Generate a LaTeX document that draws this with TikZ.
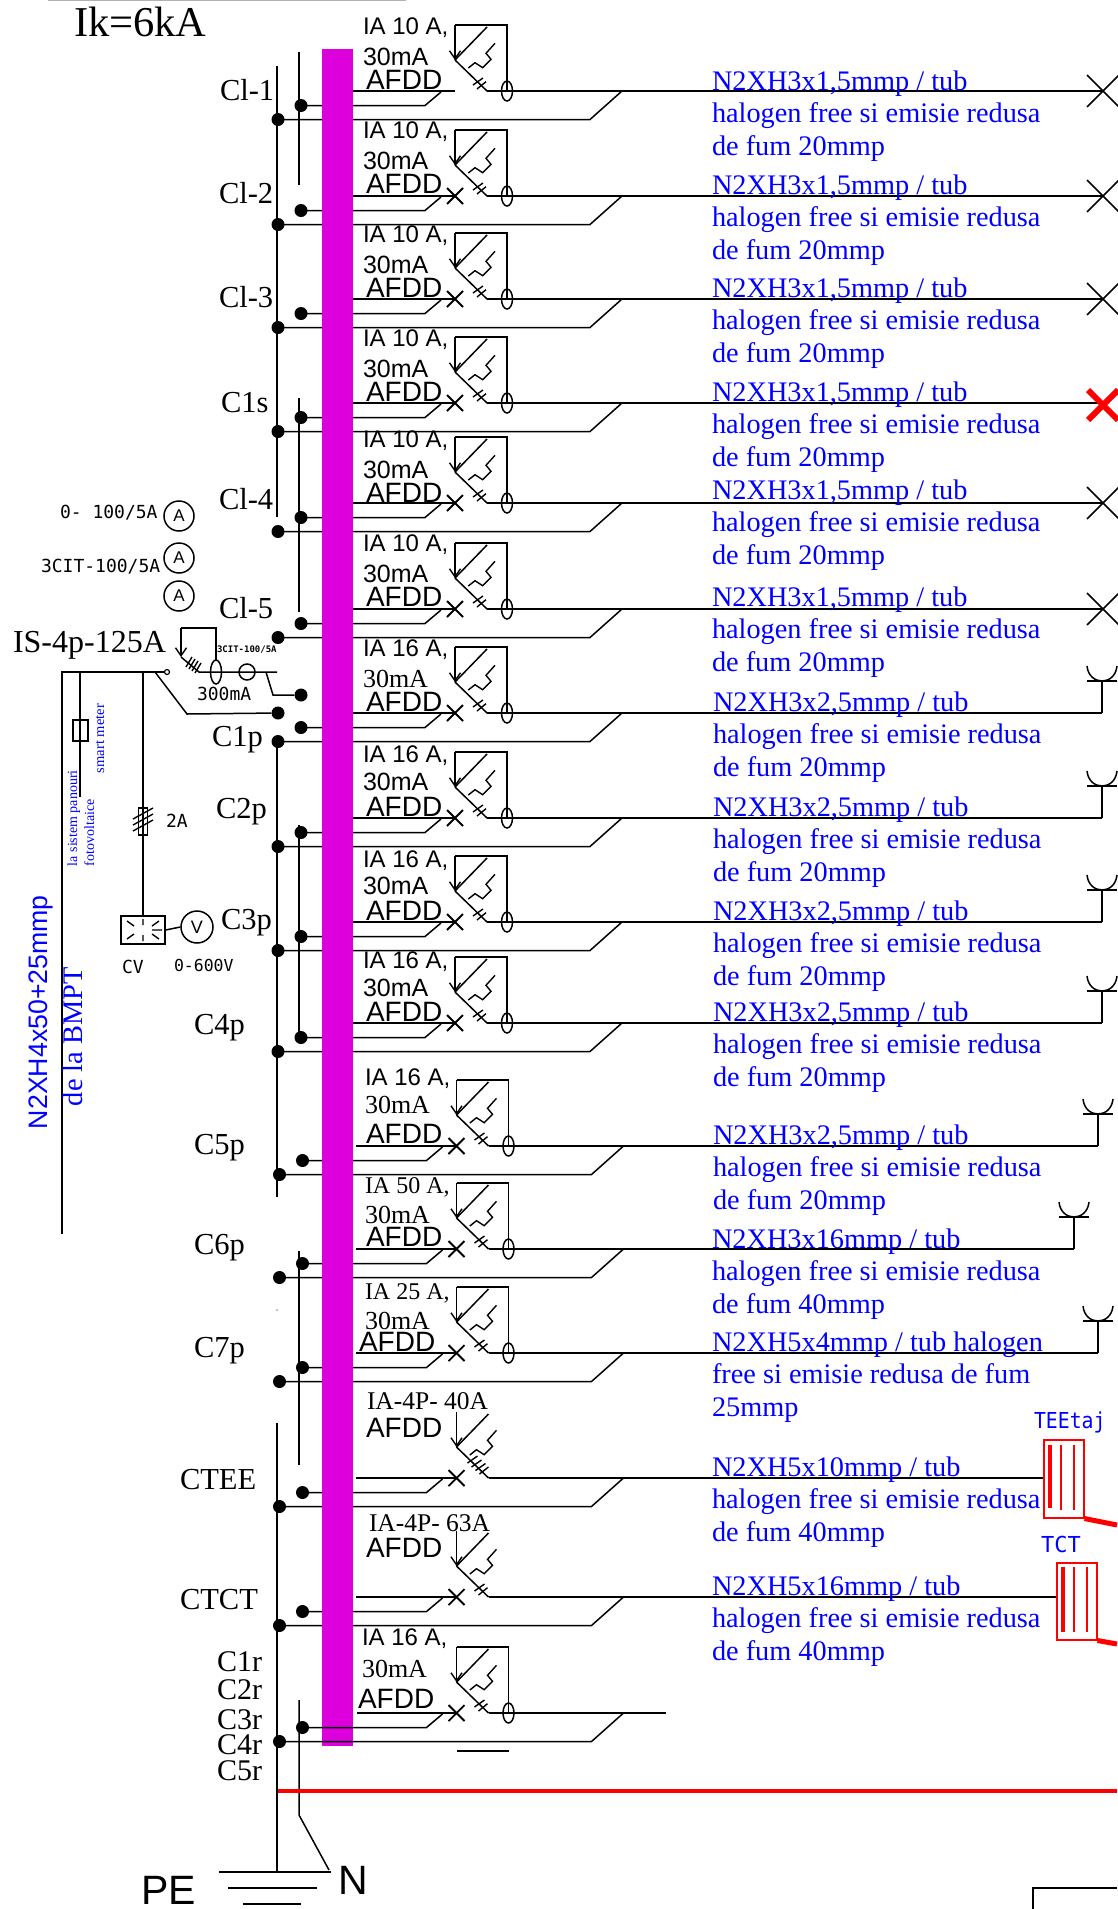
\documentclass[tikz,border=0pt]{standalone}
\usepackage{fontspec}
\setmainfont{Liberation Serif}
\setsansfont{Liberation Sans}
\newfontfamily\cad{DejaVu Sans Mono}
\usetikzlibrary{arrows.meta,shapes.geometric}
\definecolor{barpink}{HTML}{DD00DD}
\definecolor{cblue}{HTML}{0000FF}
\newcommand{\fs}[1]{\fontsize{#1}{#1}\selectfont}
\tikzset{
  ln/.style={draw=black,line width=1.5pt},
  thin ln/.style={draw=black,line width=1.4pt},
  rd/.style={draw=red,line width=1.5pt},
  bul/.style={circle,fill=black,draw=none,minimum size=13pt,inner sep=0pt},
  txt/.style={anchor=base west,inner sep=0pt,outer sep=0pt,text=black},
  cbl/.style={txt,text=cblue,font=\fs{28.3}},
  ser/.style={txt,font=\fs{30.5}},
  san/.style={txt,font=\sffamily\fs{24}},
  ma/.style={txt,font=\sffamily\fs{25}},
  mas/.style={txt,font=\fs{26}},
  afdd/.style={txt,font=\sffamily\fs{28}},
  cadt/.style={txt,font=\cad\fs{18}},
  ring/.style={circle,draw=black,line width=1.5pt,minimum size=30pt,inner sep=0pt,font=\sffamily\fs{17}},
  rlabel/.style={txt,font=\fs{30}},
  barb/.style={-{Straight Barb[length=8pt,width=11pt]}},
}
% feeder lines: id, main y, dx, right end x, main start x
\newcommand{\Lines}[5]{%
  \begin{scope}[shift={(0,#2)}]
    \coordinate (p#1) at (#5,0);
    \coordinate (e#1) at (#4,0);
    \begin{scope}[shift={(#3,0)}]
      \node[bul] (b#1) at (301,14.5) {};
      \node[bul] (c#1) at (278,28.5) {};
      \coordinate (g#1) at (455,0);
      \coordinate (q#1) at (487,0);
      \coordinate (i#1) at (425,14.5);
      \coordinate (j#1) at (441,1);
      \coordinate (k#1) at (590,28.5);
      \coordinate (l#1) at (622,0);
    \end{scope}
    \draw[ln] (p#1) -- (g#1);
    \draw[ln] (q#1) -- (e#1);
    \draw[ln] (b#1.center) -- (i#1) -- (j#1);
    \draw[ln] (c#1.center) -- (k#1) -- (l#1);
  \end{scope}}
% contact, blade, trip arrow and thermal element: id, main y, dx
\newcommand{\Contact}[3]{%
  \begin{scope}[shift={(#3,#2)}]
    \coordinate (v#1) at (455,-31);
    \coordinate (t#1) at (455,-66);
    \coordinate (u#1) at (487,-64);
    \draw[ln] (v#1) -- (q#1);
    \draw[ln] (v#1) -- (u#1);
    \draw[thin ln,barb] (t#1) -- (v#1);
    \draw[thin ln] (468.3,-23) -- (475,-28.3) -- (482.7,-23.3) -- (491,-31.7) -- (486,-37.7) -- (495,-47.7);
  \end{scope}}
% full breaker with box, ellipse, two ticks
\newcommand{\Breaker}[3]{%
  \Contact{#1}{#2}{#3}%
  \begin{scope}[shift={(#3,#2)}]
    \coordinate (r#1) at (507,0);
    \draw[ln] (t#1) -- (507,-66) -- (r#1);
    \draw[ln] (507,0) ellipse[x radius=5.5,y radius=10];
    \draw[thin ln] (473,-6) -- (483,-13) (477,-2) -- (486,-9.3);
  \end{scope}}
\newcommand{\Xmark}[3]{%
  \begin{scope}[shift={(#3,#2)}]
    \draw[line width=1.8pt] (447,-8) -- (463,8) (447,8) -- (463,-8);
  \end{scope}}
\newcommand{\BigX}[1]{%
  \begin{scope}[shift={(1103,#1)}]
    \draw[ln] (-16,-16) -- (16,16) (-16,16) -- (16,-16);
  \end{scope}}
\newcommand{\Cup}[2]{%
  \begin{scope}[shift={(#1,#2)}]
    \draw[ln] (0,0) -- (0,-32);
    \draw[ln] (-15,-32) -- (15,-32);
    \draw[ln] (-15,-47) .. controls (-14,-37) and (-7,-32) .. (0,-32) .. controls (7,-32) and (14,-37) .. (15,-47);
  \end{scope}}
\newcommand{\Cable}[6]{%
  \begin{scope}[shift={(#2,#3)}]
    \node[cbl] (cx#1) at (0,0) {#4};
    \node[cbl] (cy#1) at (0,32) {#5};
    \node[cbl] (cz#1) at (0,65) {#6};
  \end{scope}}
\begin{document}
\begin{tikzpicture}[x=1pt,y=-1pt]
\useasboundingbox (0,0) rectangle (1117,1909);
\fill[white] (0,0) rectangle (1117,1909);

% top line and title
\coordinate (top1) at (48,0.7);
\coordinate (top2) at (406,0.7);
\draw[draw=black!30,line width=1.4pt] (top1) -- (top2);
\node[txt,font=\fs{42.5}] (title) at (74,36) {Ik=6kA};

% feeders behind the bar
\foreach \i/\m/\d/\e/\s in {
  1/91/0/1103/353,2/196/0/1103/353,3/299/0/1103/353,4/403/0/1103/353,
  5/503/0/1103/353,6/609/0/1103/353,7/713/0/1102/353,8/818/0/1102/353,
  9/922/0/1102/353,10/1023/0/1102/353,11/1146/1.5/1098/356,12/1249/1.5/1074/356,
  13/1353/1.5/1098/356,14/1478/1.5/1043/356,15/1597/1.5/1056/356} {
  \Lines{\i}{\m}{\d}{\e}{\s}
}

% bus verticals
\coordinate (la) at (277,66);   \coordinate (lb) at (277,517);
\coordinate (lc) at (277,742);  \coordinate (ld) at (277,1197);
\coordinate (le) at (277,1423); \coordinate (lf) at (277,1872);
\coordinate (na) at (299,52);   \coordinate (nb) at (299,185);
\coordinate (nc) at (299,398);  \coordinate (nd) at (299,612);
\coordinate (ne) at (299,825);  \coordinate (nf) at (299,1037);
\coordinate (ng) at (299,1251); \coordinate (nh) at (299,1465);
\coordinate (ni) at (299,1700); \coordinate (nj) at (299,1815);
\coordinate (nk) at (329,1870);
\draw[ln] (la) -- (lb) (lc) -- (ld) (le) -- (lf);
\draw[ln] (na) -- (nb) (nc) -- (nd) (ne) -- (nf) (ng) -- (nh);
\draw[ln] (ni) -- (nj) -- (nk);
\fill (277,1310) circle[radius=0.7];

% pink bar
\fill[barpink] (322,49) rectangle (353,1746);

% last feeder, drawn over the bar
\Lines{16}{1713}{1.5}{666}{357}

% breakers
\foreach \i/\m/\d in {1/91/0,2/196/0,3/299/0,4/403/0,5/503/0,6/609/0,7/713/0,8/818/0,
  9/922/0,10/1023/0,11/1146/1.5,12/1249/1.5,13/1353/1.5,16/1713/1.5} {
  \Breaker{\i}{\m}{\d}
}
\foreach \i/\m/\d in {14/1478/1.5,15/1597/1.5} { \Contact{\i}{\m}{\d} }
\foreach \i/\m/\d in {2/196/0,3/299/0,4/403/0,5/503/0,6/609/0,7/713/0,8/818/0,
  9/922/0,10/1023/0,11/1146/1.5,12/1249/1.5,13/1353/1.5,14/1478/1.5,15/1597/1.5,16/1713/1.5} {
  \Xmark{\i}{\m}{\d}
}
% ticks of the two 4-pole breakers
\begin{scope}[shift={(1.5,1478)}]
  \draw[thin ln] (466,-15) -- (476,-22) (470,-11) -- (480,-18) (474,-7.5) -- (484,-14.5) (478,-4) -- (487,-11);
\end{scope}
\begin{scope}[shift={(1.5,1597)}]
  \draw[thin ln] (473,-6) -- (483,-13) (477,-2) -- (486,-9.3);
\end{scope}
\coordinate (s16a) at (457,1751);
\coordinate (s16b) at (509,1751);
\draw[ln] (s16a) -- (s16b);

% right ends
\BigX{91}\BigX{196}\BigX{299}\BigX{503}\BigX{609}
\begin{scope}[shift={(1103,405)}]
  \draw[draw=red,line width=6pt] (-15,-15) -- (15,15) (-15,15) -- (15,-15);
\end{scope}
\Cup{1102}{713}\Cup{1102}{818}\Cup{1102}{922}\Cup{1102}{1023}
\Cup{1098}{1146}\Cup{1074}{1249}\Cup{1098}{1353}

% cable texts
\foreach \i/\x/\m/\a/\c in {
  1/712/90/N2XH3x1{,}5mmp/20,2/712/194/N2XH3x1{,}5mmp/20,3/712/297/N2XH3x1{,}5mmp/20,
  4/712/401/N2XH3x1{,}5mmp/20,5/712/499/N2XH3x1{,}5mmp/20,6/712/606/N2XH3x1{,}5mmp/20,
  7/713/711.5/N2XH3x2{,}5mmp/20,8/713/816/N2XH3x2{,}5mmp/20,9/713/920/N2XH3x2{,}5mmp/20,
  10/713/1021/N2XH3x2{,}5mmp/20,11/713/1144/N2XH3x2{,}5mmp/20,12/712/1248/N2XH3x16mmp/40,
  14/712/1476/N2XH5x10mmp/40,15/712/1595/N2XH5x16mmp/40} {
  \Cable{\i}{\x}{\m}{\a\ / tub}{halogen free si emisie redusa}{de fum \c mmp}
}
\Cable{13}{712}{1351}{N2XH5x4mmp / tub halogen}{free si emisie redusa de fum}{25mmp}

% breaker labels, sans rows
\foreach \i/\x/\m/\a in {1/363/91/10,2/363/195/10,3/363/299/10,4/363/403/10,5/363/504/10,6/363/608/10} {
  \node[san] (ia\i) at (\x,\m-57) {IA \a\ A,};
  \node[ma] (mA\i) at (\x,\m-26) {30mA};
  \node[afdd] (af\i) at (\x+3,\m-2) {AFDD};
}
\foreach \i/\x/\m/\a/\p/\q in {8/363/818/16/-56/-28,9/363/922/16/-55/-28,10/363/1023/16/-55/-27} {
  \node[san] (ia\i) at (\x,\m\p) {IA \a\ A,};
  \node[ma] (mA\i) at (\x,\m\q) {30mA};
  \node[afdd] (af\i) at (\x+3,\m-2) {AFDD};
}
\node[san] (ia7) at (363,656) {IA 16 A,};
\node[mas] (mA7) at (363,687) {30mA};
\node[afdd] (af7) at (366,711) {AFDD};
\node[san] (ia11) at (365,1085) {IA 16 A,};
\node[mas] (mA11) at (365,1113) {30mA};
\node[afdd] (af11) at (366,1143) {AFDD};
\node[txt,font=\fs{24}] (ia12) at (365,1193) {IA 50 A,};
\node[mas] (mA12) at (365,1223) {30mA};
\node[afdd] (af12) at (366,1246) {AFDD};
\node[txt,font=\fs{24}] (ia13) at (365,1299) {IA 25 A,};
\node[mas] (mA13) at (365,1329) {30mA};
\node[afdd] (af13) at (359,1351) {AFDD};
\node[txt,font=\fs{25.5}] (ia14) at (367,1409) {IA-4P- 40A};
\node[afdd] (af14) at (366,1437) {AFDD};
\node[txt,font=\fs{25.5}] (ia15) at (369,1531) {IA-4P- 63A};
\node[afdd] (af15) at (366,1557) {AFDD};
\node[san] (ia16) at (362,1645) {IA 16 A,};
\node[mas] (mA16) at (362,1677) {30mA};
\node[afdd] (af16) at (358,1708) {AFDD};

% circuit names
\foreach \n/\x/\y/\t in {l1/220/100/Cl-1,l2/219/203/Cl-2,l3/219/307/Cl-3,l4/221/412/C1s,
  l5/219/509/Cl-4,l6/219/618/Cl-5,l7/212/746/C1p,l8/216/818/C2p,l9/221/929/C3p,
  l10/194/1034/C4p,l11/194/1154/C5p,l12/194/1254/C6p,l13/194/1357/C7p,
  l14/180/1489/CTEE,l15/180/1609/CTCT} {
  \node[ser] (\n) at (\x,\y) {\t};
}
\foreach \n/\y/\t in {m1/1671/C1r,m2/1699/C2r,m3/1729/C3r,m4/1754/C4r,m5/1780/C5r} {
  \node[rlabel] (\n) at (217,\y) {\t};
}

% meters
\node[cadt] (am1t) at (60,518) {0- 100/5A};
\node[cadt] (am2t) at (41,572) {3CIT-100/5A};
\node[ring] (am1) at (179,516) {A};
\node[ring] (am2) at (179,558) {A};
\node[ring] (am3) at (179,596) {A};

% incoming
\node[txt,font=\fs{32}] (isl) at (13,652) {IS-4p-125A};
\node[circle,draw=black,line width=1.2pt,minimum size=5pt,inner sep=0pt] (isc) at (167,672) {};
\coordinate (ia) at (62,672); \coordinate (ib) at (155,672); \coordinate (ic) at (62,1234);
\draw[ln] (ic) -- (ia) -- (ib) -- (isc.west);
\coordinate (ka) at (80,672); \coordinate (kb) at (80,797);
\draw[ln] (ka) -- (kb);
\node[draw=black,line width=1.5pt,fill=none,minimum width=15pt,minimum height=21pt,inner sep=0pt] (meter) at (80.5,730.5) {};
\coordinate (fa) at (143,672); \coordinate (fb) at (143,916);
\draw[ln] (fa) -- (fb);
\node[draw=black,line width=1.2pt,minimum width=9pt,minimum height=27pt,inner sep=0pt] (fuse) at (143,821.5) {};
\draw[thin ln] (133,819) -- (153,808) (133,825) -- (153,814) (133,831) -- (153,820);
\node[cadt] (f2a) at (166,827) {2A};
\node[bul] (b7x) at (278,713) {};
\coordinate (da) at (187,714);
\draw[ln] (ib) -- (da) -- (b7x);
% main switch
\coordinate (sa) at (181,628); \coordinate (sb) at (216,628); \coordinate (sc) at (216,660);
\coordinate (sd) at (181,657); \coordinate (se) at (199,672); \coordinate (sf) at (277,672);
\coordinate (sg) at (266,672); \coordinate (sh) at (273,695);
\node[bul] (b6x) at (301,695) {};
\draw[ln] (sa) -- (sb) -- (sc);
\draw[thin ln,barb] (sa) -- (sd);
\draw[ln] (sd) -- (se) -- (sf);
\draw[ln] (sg) -- (sh) -- (b6x);
\draw[ln] (216,672) ellipse[x radius=5.5,y radius=12];
\node[circle,draw=black,line width=1.5pt,minimum size=16pt,inner sep=0pt] (ct) at (247,672) {};
\draw[thin ln] (192,657) -- (186,667) (195,659) -- (189,669) (198,661) -- (192,671) (201,663) -- (195,673);
\node[txt,font=\cad\bfseries\fs{9}] (ctl) at (217,652) {3CIT-100/5A};
\node[cadt] (ma300) at (197,700) {300mA};

% voltmeter
\node[draw=black,line width=1.5pt,minimum width=44pt,minimum height=28pt,inner sep=0pt] (cv) at (143,930) {};
\draw[thin ln] (143,919) -- (143,925) (143,935) -- (143,941)
  (127,921) -- (134,926) (127,939) -- (134,934) (159,921) -- (152,926) (159,939) -- (152,934) (152,930) -- (162,930);
\node[circle,draw=black,line width=1.5pt,minimum size=32pt,inner sep=0pt,font=\sffamily\fs{18}] (vm) at (197,927) {V};
\draw[ln] (cv.east) -- (vm.west);
\node[cadt] (cvl) at (122,973) {CV};
\node[txt,font=\cad\fs{16.5}] (vr) at (174,971) {0-600V};

% rotated blue texts
\node[txt,rotate=90,text=cblue,font=\sffamily\fs{26.7}] (cab1) at (47,1129) {N2XH4x50+25mmp};
\node[txt,rotate=90,text=cblue,font=\fs{28.4}] (cab2) at (82,1106) {de la BMPT};
\node[txt,rotate=90,text=cblue,font=\fs{14}] (pv1) at (77,866) {la sistem panouri};
\node[txt,rotate=90,text=cblue,font=\fs{14}] (pv2) at (94,866) {fotovoltaice};
\node[txt,rotate=90,text=cblue,font=\fs{14.5}] (sm) at (104,773) {smart meter};

% panels
\node[rd,rectangle,minimum width=40pt,minimum height=78pt,inner sep=0pt,anchor=north west] (tee) at (1043,1439) {};
\draw[draw=red,line width=4pt] (1050,1445) -- (1050,1508);
\draw[draw=red,line width=1.4pt] (1061,1445) -- (1061,1510) (1074,1445) -- (1074,1510);
\coordinate (teeo) at (1117,1525);
\draw[draw=red,line width=5pt] (tee.south east) -- (teeo);
\node[txt,text=cblue,font=\cad\fs{22}] (teel) at (1034,1428) {\scalebox{.9}[1]{TEEtaj}};
\node[rd,rectangle,minimum width=40pt,minimum height=77pt,inner sep=0pt,anchor=north west] (tct) at (1056,1562) {};
\draw[draw=red,line width=4pt] (1063,1567) -- (1063,1632);
\draw[draw=red,line width=1.4pt] (1074,1567) -- (1074,1632) (1087,1567) -- (1087,1632);
\coordinate (tcto) at (1117,1644);
\draw[draw=red,line width=5pt] (tct.south east) -- (tcto);
\node[txt,text=cblue,font=\cad\fs{22}] (tctl) at (1041,1552) {TCT};

% red line, earth
\coordinate (reda) at (278,1791); \coordinate (redb) at (1117,1791);
\draw[draw=red,line width=4.5pt] (reda) -- (redb);
\coordinate (g1a) at (219,1872); \coordinate (g1b) at (331,1872);
\coordinate (g2a) at (228,1888); \coordinate (g2b) at (317,1888);
\coordinate (g3a) at (243,1904); \coordinate (g3b) at (301,1904);
\draw[ln] (g1a) -- (g1b) (g2a) -- (g2b) (g3a) -- (g3b);
\node[txt,font=\sffamily\fs{41}] (pe) at (141,1904) {PE};
\node[txt,font=\sffamily\fs{41}] (nn) at (338,1894) {N};

% corner box
\coordinate (cba) at (1033,1909); \coordinate (cbb) at (1033,1888); \coordinate (cbc) at (1117,1888);
\draw[draw=black,line width=1.8pt] (cba) -- (cbb) -- (cbc);
\end{tikzpicture}
\end{document}
